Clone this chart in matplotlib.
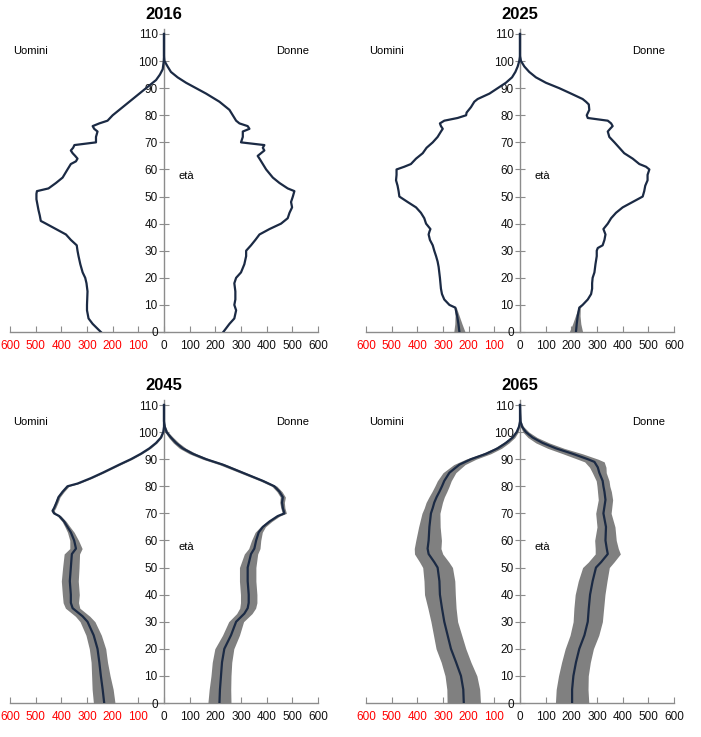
import matplotlib.pyplot as plt
import numpy as np

plt.rcParams['font.family'] = ['Liberation Sans', 'DejaVu Sans']

# ---- data (thousands of people by age) ----
ages_16m = [0, 3, 5, 8, 10, 15, 18, 20, 22, 25, 28, 30, 32, 34, 36, 38, 40, 41, 43, 45, 47, 49, 51, 52, 53,
            55, 57, 60, 62, 63, 64, 65, 66, 67, 68, 69, 70, 72, 74, 75, 76, 77, 78, 80, 82, 85, 88, 90, 93, 95,
            97, 100, 102, 110]
men_16 = [246, 278, 294, 300, 300, 298, 302, 307, 317, 326, 333, 337, 340, 363, 382, 421, 460, 480, 484, 489,
          493, 497, 497, 495, 450, 421, 395, 376, 363, 343, 337, 346, 356, 363, 354, 349, 265, 265, 259, 272,
          278, 252, 220, 200, 174, 135, 96, 70, 31, 16, 5, 1, 0, 0]
ages_16f = [0, 3, 5, 8, 10, 12, 15, 18, 20, 22, 25, 28, 30, 32, 34, 36, 38, 40, 42, 44, 46, 48, 50, 52, 53,
            55, 57, 60, 62, 64, 65, 66, 67, 68, 69, 70, 72, 74, 75, 76, 77, 78, 80, 82, 85, 88, 90, 92, 94, 96,
            98, 100, 102, 110]
women_16 = [231, 255, 274, 281, 274, 278, 278, 274, 281, 300, 313, 320, 320, 339, 356, 372, 411, 456, 482, 489,
            499, 495, 502, 508, 482, 450, 424, 398, 385, 372, 365, 378, 391, 385, 391, 300, 307, 307, 333, 326,
            294, 281, 268, 255, 216, 164, 125, 86, 53, 27, 14, 2, 0, 0]

ages_25m = [0, 3, 6, 9, 10, 12, 14, 16, 20, 24, 26, 28, 30, 32, 34, 36, 37, 38, 40, 42, 44, 46, 48, 50, 52,
            54, 56, 58, 60, 61, 62, 64, 66, 68, 70, 72, 74, 75, 76, 77, 78, 79, 80, 81, 83, 85, 86, 88, 90, 92,
            94, 96, 98, 100, 102, 110]
men_25 = [236, 240, 245, 252, 275, 295, 304, 308, 312, 317, 321, 327, 334, 340, 351, 356, 353, 349, 366, 373,
          386, 405, 438, 470, 473, 477, 483, 481, 481, 451, 425, 405, 379, 364, 340, 321, 308, 301, 308, 312,
          295, 243, 210, 208, 191, 178, 165, 119, 87, 55, 31, 18, 9, 3, 0, 0]
band_25m = [22, 14, 8, 4, 0]
ages_25f = [0, 3, 6, 9, 10, 12, 14, 16, 18, 20, 22, 25, 28, 30, 31, 32, 34, 36, 38, 40, 42, 44, 46, 48, 50,
            52, 54, 56, 58, 60, 61, 62, 64, 66, 68, 70, 72, 74, 75, 76, 77, 78, 79, 80, 82, 84, 85, 86, 88, 90,
            92, 94, 96, 98, 100, 102, 110]
women_25 = [218, 221, 225, 231, 244, 264, 277, 281, 281, 283, 290, 294, 299, 299, 303, 322, 329, 333, 325, 342,
            355, 374, 400, 439, 478, 484, 488, 497, 497, 504, 491, 465, 439, 406, 387, 368, 348, 342, 351, 361,
            355, 342, 264, 260, 270, 268, 257, 244, 199, 153, 101, 62, 36, 17, 4, 0, 0]
band_25f = [26, 16, 9, 4, 0]

ages_45m = [0, 5, 10, 15, 20, 25, 30, 32, 35, 37, 40, 45, 50, 55, 57, 60, 63, 65, 67, 69, 70, 71, 72, 74, 76,
            78, 80, 81, 83, 85, 88, 90, 92, 94, 96, 98, 100, 102, 110]
men_45 = [233, 239, 246, 252, 259, 274, 298, 317, 356, 363, 363, 367, 363, 359, 343, 350, 363, 376, 389, 408,
          428, 434, 428, 419, 411, 395, 376, 337, 285, 239, 174, 129, 90, 57, 31, 12, 3, 0, 0]
band_45m = [42, 41, 36, 32, 32, 30, 29, 28, 28, 30, 33, 33, 32, 30, 24, 17, 13, 10, 8, 7,
            6, 6, 6, 6, 6, 6, 6, 6, 6, 6, 6, 6, 5, 5, 4, 3, 2, 0, 0]
ages_45f = [0, 5, 10, 15, 20, 25, 30, 33, 35, 37, 40, 45, 50, 55, 57, 60, 63, 65, 67, 69, 70, 72, 74, 76, 78,
            80, 82, 84, 86, 88, 90, 92, 94, 96, 98, 100, 102, 104, 110]
women_45 = [216, 218, 222, 226, 235, 261, 281, 313, 326, 330, 330, 326, 326, 339, 352, 359, 369, 385, 411, 443,
            469, 463, 460, 463, 450, 430, 385, 333, 281, 229, 164, 112, 73, 47, 27, 10, 3, 0, 0]
band_45f = [45, 42, 39, 38, 37, 33, 29, 30, 31, 32, 32, 32, 32, 26, 22, 18, 14, 10, 9, 8,
            8, 8, 9, 10, 10, 10, 11, 12, 13, 14, 14, 14, 13, 11, 9, 6, 3, 0, 0]

ages_65m = [0, 5, 10, 15, 20, 25, 30, 35, 40, 45, 50, 52, 55, 57, 60, 65, 70, 72, 74, 76, 78, 80, 82, 85, 88,
            90, 92, 94, 96, 98, 100, 102, 104, 110]
men_65 = [219, 221, 230, 249, 269, 282, 295, 304, 312, 314, 321, 334, 356, 360, 356, 353, 347, 340, 334, 325,
          314, 304, 295, 275, 236, 191, 132, 87, 55, 29, 13, 4, 0, 0]
band_65m = [65, 64, 62, 58, 58, 55, 52, 55, 60, 60, 58, 57, 55, 52, 50, 42, 35, 33, 32, 30,
            29, 28, 27, 25, 22, 20, 18, 15, 12, 9, 6, 3, 0, 0]
ages_65f = [0, 5, 10, 15, 20, 25, 30, 35, 40, 45, 50, 52, 55, 57, 60, 65, 70, 75, 78, 80, 82, 85, 87, 89, 90,
            92, 94, 96, 98, 100, 102, 104, 110]
women_65 = [203, 203, 208, 218, 231, 251, 264, 268, 273, 283, 296, 316, 342, 338, 333, 335, 325, 333, 329, 325,
            322, 309, 303, 290, 264, 205, 140, 88, 49, 23, 8, 2, 0]
band_65f = [65, 62, 58, 56, 55, 56, 57, 58, 58, 56, 52, 50, 49, 45, 42, 35, 30, 28, 27, 25,
            25, 27, 32, 38, 40, 38, 32, 26, 18, 12, 6, 2, 0]

years = ['2016', '2025', '2045', '2065']
xticks = [-600, -500, -400, -300, -200, -100, 0, 100, 200, 300, 400, 500, 600]
yticks = [0, 10, 20, 30, 40, 50, 60, 70, 80, 90, 100, 110]

panels = [
    (ages_16m, men_16, [], ages_16f, women_16, []),
    (ages_25m, men_25, band_25m, ages_25f, women_25, band_25f),
    (ages_45m, men_45, band_45m, ages_45f, women_45, band_45f),
    (ages_65m, men_65, band_65m, ages_65f, women_65, band_65f),
]

LINE = '#1b2a44'
BAND = '#808080'
AXC = '#8c8c8c'

fig = plt.figure(figsize=(7.01, 7.37), dpi=100)
W, H = 701, 737
# pixel boxes: left, x-width, y of age 0
boxes = [(10, 308, 332), (366, 308, 332), (10, 308, 703), (366, 308, 703)]
px_per_year = 298 / 110
ytop = 112


def padded(band, n):
    band = list(band) + [0] * (n - len(band))
    return np.array(band, dtype=float)


for (left, width, y0), year, (am, m, bm, af, f, bf) in zip(boxes, years, panels):
    h = ytop * px_per_year
    ax = fig.add_axes([left / W, (H - y0) / H, width / W, h / H])
    am, m = np.array(am, float), np.array(m, float)
    af, f = np.array(af, float), np.array(f, float)
    bm, bf = padded(bm, len(m)), padded(bf, len(f))

    if bm.any():
        ax.fill_betweenx(am, -(m + bm), -(m - bm), color=BAND, lw=0, zorder=2)
    if bf.any():
        ax.fill_betweenx(af, f - bf, f + bf, color=BAND, lw=0, zorder=2)
    ax.plot(-m, am, color=LINE, lw=1.6, zorder=3, solid_joinstyle='round')
    ax.plot(f, af, color=LINE, lw=1.6, zorder=3, solid_joinstyle='round')

    ax.set_xlim(-600, 600)
    ax.set_ylim(0, ytop)
    ax.spines['left'].set_position(('data', 0))
    ax.spines['bottom'].set_position(('data', 0))
    ax.spines['left'].set_bounds(0, ytop)
    for s in ['top', 'right']:
        ax.spines[s].set_visible(False)
    for s in ['left', 'bottom']:
        ax.spines[s].set_color(AXC)
        ax.spines[s].set_linewidth(1.0)
        ax.spines[s].set_zorder(1)

    ax.set_xticks(xticks)
    ax.set_xticklabels([str(abs(v)) for v in xticks])
    for lab, v in zip(ax.get_xticklabels(), xticks):
        lab.set_color('red' if v < 0 else '#111111')
    ax.set_yticks(yticks)
    ax.tick_params(axis='x', direction='in', length=4, color=AXC, labelsize=8.5, pad=6)
    ax.tick_params(axis='y', direction='inout', length=7, color=AXC, labelsize=8.5, pad=1,
                   labelcolor='#111111')
    ax.patch.set_alpha(0)

    ax.set_title(year, fontsize=12, fontweight='bold', pad=7)
    ax.text(-588, 103.7, 'Uomini', fontsize=8, va='center', ha='left')
    ax.text(437, 103.7, 'Donne', fontsize=8, va='center', ha='left')
    ax.text(55, 57.5, 'età', fontsize=8, va='center', ha='left')

fig.savefig('out.png', dpi=100)
